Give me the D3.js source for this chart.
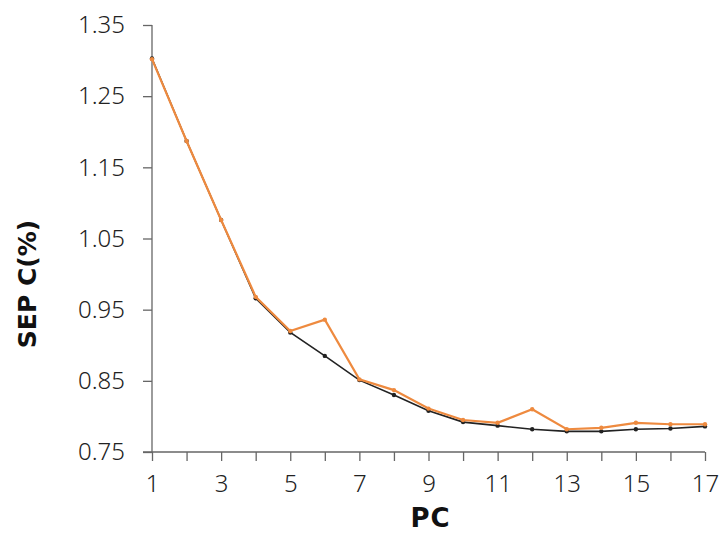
<!DOCTYPE html>
<html lang="en">
<head>
    <meta charset="UTF-8">
    <title>SEP C vs PC</title>
    <script src="https://d3js.org/d3.v7.min.js"></script>
    <style>
        body { margin: 0; background: #fff; }
        .tick text { font-family: "Noto Sans", "Open Sans", sans-serif; font-weight: 300; font-size: 24px; fill: #222; }
        .axis-title { font-family: "DejaVu Sans", sans-serif; font-weight: 700; fill: #111; }
    </style>
</head>
<body>
    <div id="chart"></div>
    <script>
        const pcs = [1, 2, 3, 4, 5, 6, 7, 8, 9, 10, 11, 12, 13, 14, 15, 16, 17];
        const sepBlack = [1.303, 1.187, 1.076, 0.966, 0.918, 0.885, 0.851, 0.830, 0.808, 0.792, 0.787, 0.782, 0.779, 0.779, 0.782, 0.783, 0.786];
        const sepOrange = [1.302, 1.187, 1.076, 0.968, 0.920, 0.936, 0.852, 0.837, 0.811, 0.795, 0.791, 0.810, 0.782, 0.784, 0.791, 0.789, 0.789];
        const yTicks = [0.75, 0.85, 0.95, 1.05, 1.15, 1.25, 1.35];
        const xTicks = [1, 3, 5, 7, 9, 11, 13, 15, 17];

        const margin = {top: 25, right: 15, bottom: 83, left: 152};
        const width = 720 - margin.left - margin.right;
        const height = 535 - margin.top - margin.bottom;

        const svg = d3.select("#chart")
            .append("svg")
            .attr("width", 720)
            .attr("height", 535)
            .append("g")
            .attr("transform", `translate(${margin.left},${margin.top})`);

        const x = d3.scaleLinear().domain([1, 17]).range([0, width]);
        const y = d3.scaleLinear().domain([0.75, 1.35]).range([height, 0]);

        // x axis: tick at every PC, label on odd ones
        const xAxis = svg.append("g")
            .attr("transform", `translate(0,${height})`)
            .call(d3.axisBottom(x).tickValues(pcs).tickSize(9).tickPadding(14)
                .tickFormat(d => xTicks.includes(d) ? d : ""));
        xAxis.select(".domain").attr("d", `M-9,0H${x(17)}`);

        const yAxis = svg.append("g")
            .call(d3.axisLeft(y).tickValues(yTicks).tickSize(9).tickPadding(18)
                .tickFormat(d3.format(".2f")));
        yAxis.select(".domain").attr("d", `M0,${height}V0`);

        svg.selectAll(".domain, .tick line").attr("stroke", "#666").attr("stroke-width", 1.3);

        svg.append("text")
            .attr("class", "axis-title")
            .attr("text-anchor", "middle")
            .attr("x", x(9) + 2)
            .attr("y", height + 75)
            .style("font-size", "26px")
            .style("letter-spacing", "1px")
            .text("PC");

        svg.append("text")
            .attr("class", "axis-title")
            .attr("text-anchor", "middle")
            .attr("transform", "rotate(-90)")
            .attr("x", -(284 - margin.top))
            .attr("y", 36 - margin.left)
            .style("font-size", "25px")
            .text("SEP C(%)");

        const series = [
            {vals: sepBlack, color: "#222", w: 1.6, r: 2.2},
            {vals: sepOrange, color: "#ee8a3f", w: 2.2, r: 2.2}
        ];

        const line = d3.line()
            .x((d, i) => x(pcs[i]))
            .y(d => y(d));

        series.forEach(s => {
            svg.append("path")
                .datum(s.vals)
                .attr("fill", "none")
                .attr("stroke", s.color)
                .attr("stroke-width", s.w)
                .attr("d", line);

            svg.selectAll(null)
                .data(s.vals)
                .enter()
                .append("circle")
                .attr("cx", (d, i) => x(pcs[i]))
                .attr("cy", d => y(d))
                .attr("r", s.r)
                .attr("fill", s.color);
        });
    </script>
</body>
</html>
